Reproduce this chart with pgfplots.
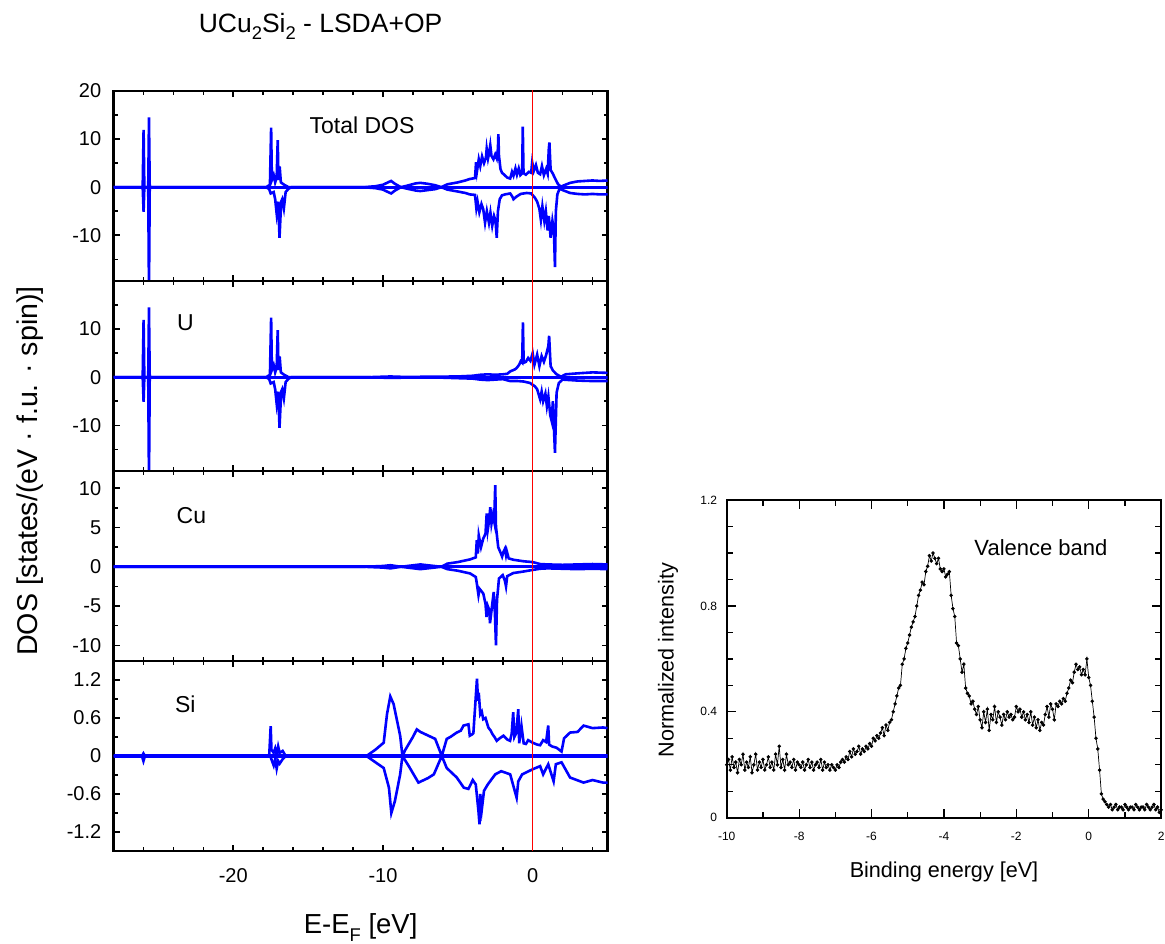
\documentclass[border=0pt]{standalone}
\usepackage{fontspec}
\setmainfont{Liberation Sans}
\usepackage{pgfplots}
\pgfplotsset{compat=1.18}

\pgfplotsset{
  dos/.style={
    scale only axis, width=247pt, height=95pt, anchor=south west,
    xmin=-28, xmax=5,
    xtick={-20,-10,0},
    minor xtick={-26,-24,-22,-18,-16,-14,-12,-8,-6,-4,-2,2,4},
    xticklabels={},
    axis line style={line width=1.3pt},
    tick style={black, line width=0.8pt},
    major tick length=3pt, minor tick length=2pt,
    tick label style={font=\fontsize{10}{12}\selectfont},
    yticklabel style={xshift=-2.6pt},
    xticklabel style={yshift=-5pt},
    /pgf/number format/assume math mode=true,
  },
  spin/.style={blue, line width=1.3pt},
  zeroline/.style={blue, line width=1.6pt},
  fermi/.style={red, line width=0.7pt},
}
\tikzset{lab/.style={font=\fontsize{11.5}{13}\selectfont}}
% deep subscript as in the original figure
\newcommand\dsub[2]{\raisebox{-#2}{\fontsize{9.2}{10}\selectfont #1}}

\begin{document}
\begin{tikzpicture}
\path[use as bounding box] (0,0) rectangle (582.5pt,471.5pt);

% ---- Total DOS
\begin{axis}[dos, at={(56.75pt,331pt)}, ymin=-19.5, ymax=20,
  ytick={-10,0,10,20}, minor ytick={-15,-5,5,15}]
\addplot[zeroline] coordinates {(-28,0) (5,0)};
\addplot[spin] coordinates {
(-28,0) (-26.05,0) (-25.99,11.9) (-25.94,0) (-25.68,0) (-25.63,14.5) (-25.58,0)
(-17.8,0) (-17.55,0.5) (-17.47,12.4) (-17.42,1.5) (-17.3,2.5) (-17.2,1.0) (-17.1,2.0)
(-17.03,9.8) (-16.98,1.5) (-16.9,4.3) (-16.82,1.0) (-16.6,0.5) (-16.3,0)
(-11.3,0) (-10.5,0.2) (-10.0,0.5) (-9.6,1.1) (-9.45,1.3) (-9.2,0.7) (-8.8,0)
(-8.4,0.3) (-7.8,0.8) (-7.5,0.9) (-7.0,0.7) (-6.5,0.4) (-6.1,0)
(-5.7,0.6) (-5.0,1.0) (-4.5,1.4) (-4.2,1.7) (-3.85,1.9) (-3.78,5.2) (-3.72,3.3)
(-3.6,5.8) (-3.5,4.4) (-3.38,6.4) (-3.25,5.0) (-3.12,6.2) (-3.07,8.0) (-2.98,6.0)
(-2.9,7.2) (-2.83,8.7) (-2.75,6.5) (-2.62,5.8) (-2.5,6.8) (-2.4,6.0) (-2.32,8.0)
(-2.29,11.0) (-2.25,6.5) (-2.15,3.8) (-2.05,3.0) (-1.9,2.6) (-1.7,2.0) (-1.5,1.8)
(-1.38,3.2) (-1.28,2.4) (-1.15,3.9) (-1.05,2.6) (-0.93,3.9) (-0.82,2.5) (-0.7,2.9)
(-0.66,12.6) (-0.61,2.9) (-0.45,2.6) (-0.25,3.2) (-0.1,3.0) (-0.03,5.2) (0.08,3.4)
(0.22,4.6) (0.35,3.0) (0.5,2.7) (0.62,4.4) (0.75,2.5) (0.9,3.8) (1.0,2.8)
(1.08,8.0) (1.12,9.3) (1.2,3.6) (1.35,2.8) (1.5,1.8) (1.7,0.6) (1.9,0.1)
(2.1,0.4) (2.5,0.9) (3.0,1.2) (3.5,1.3) (4.0,1.4) (4.5,1.3) (5.0,1.4)
};
\addplot[spin] coordinates {
(-28,0) (-26.05,0) (-25.99,-5.1) (-25.94,0) (-25.68,0) (-25.63,-22) (-25.58,0)
(-17.8,0) (-17.6,-0.4) (-17.5,-1.3) (-17.3,-1.0) (-17.2,-2.5) (-17.1,-5.5) (-17.0,-3.0)
(-16.91,-10.5) (-16.8,-3.0) (-16.73,-2.5) (-16.62,-4.4) (-16.5,-1.0) (-16.3,-0.3) (-16.1,0)
(-11.3,0) (-10.5,-0.2) (-10.0,-0.5) (-9.6,-1.1) (-9.45,-1.3) (-9.2,-0.7) (-8.8,0)
(-8.4,-0.3) (-7.8,-0.7) (-7.5,-0.8) (-7.0,-0.6) (-6.5,-0.4) (-6.1,0)
(-5.7,-0.5) (-5.0,-0.9) (-4.5,-1.2) (-4.2,-1.5) (-3.85,-1.6) (-3.76,-4.4) (-3.68,-3.0)
(-3.56,-5.2) (-3.42,-3.5) (-3.3,-4.6) (-3.18,-7.4) (-3.06,-5.0) (-2.92,-7.4) (-2.82,-5.3)
(-2.7,-8.0) (-2.58,-6.0) (-2.48,-7.0) (-2.4,-10.5) (-2.32,-5.0) (-2.2,-2.5) (-2.05,-1.7)
(-1.85,-1.5) (-1.5,-1.3) (-1.35,-2.0) (-1.28,-2.5) (-1.1,-2.0) (-0.8,-1.4) (-0.4,-1.2)
(-0.1,-1.3) (0.15,-2.2) (0.3,-3.0) (0.45,-4.5) (0.55,-6.8) (0.65,-4.0) (0.78,-7.0)
(0.88,-5.0) (1.0,-9.0) (1.08,-6.0) (1.2,-10.5) (1.32,-7.0) (1.42,-9.0) (1.49,-16.6)
(1.55,-5.0) (1.65,-1.5) (1.8,-0.3) (2.0,-0.6) (2.5,-1.2) (3.0,-1.4) (3.5,-1.5)
(4.0,-1.4) (4.5,-1.5) (5.0,-1.5)
};
\addplot[fermi] coordinates {(0,-30) (0,30)};
\node[lab] at (axis cs:-11.4,12.8) {Total DOS};
\end{axis}

% ---- U
\begin{axis}[dos, at={(56.75pt,236pt)}, ymin=-19.5, ymax=20,
  ytick={-10,0,10}, minor ytick={-15,-5,5,15}]
\addplot[zeroline] coordinates {(-28,0) (5,0)};
\addplot[spin] coordinates {
(-28,0) (-26.05,0) (-25.99,11.9) (-25.94,0) (-25.68,0) (-25.63,14.5) (-25.58,0)
(-17.8,0) (-17.55,0.5) (-17.47,12.4) (-17.42,1.5) (-17.3,2.5) (-17.2,1.0) (-17.1,2.0)
(-17.03,9.8) (-16.98,1.5) (-16.9,4.3) (-16.82,1.0) (-16.6,0.5) (-16.3,0)
(-11,0) (-9.5,0.15) (-8.5,0.05) (-7,0.1) (-5,0.15) (-4,0.3) (-3.5,0.5) (-3,0.6)
(-2.5,0.5) (-2,0.6) (-1.7,0.7) (-1.5,1.2) (-1.2,1.6) (-1.07,1.9) (-0.9,2.6) (-0.8,3.3)
(-0.7,3.0) (-0.65,11.4) (-0.6,3.0) (-0.45,3.2) (-0.3,4.0) (-0.15,3.4) (0.0,5.0)
(0.12,2.6) (0.3,4.7) (0.45,2.3) (0.6,4.4) (0.75,3.2) (0.9,4.6) (1.05,6.5) (1.1,8.6)
(1.2,2.3) (1.35,1.4) (1.6,0.6) (1.9,0.1) (2.2,0.6) (3.0,0.8) (4.0,1.0) (5.0,0.9)
};
\addplot[spin] coordinates {
(-28,0) (-26.05,0) (-25.99,-5.1) (-25.94,0) (-25.68,0) (-25.63,-22) (-25.58,0)
(-17.8,0) (-17.6,-0.4) (-17.5,-1.3) (-17.3,-1.0) (-17.2,-2.5) (-17.1,-5.5) (-17.0,-3.0)
(-16.91,-10.5) (-16.8,-3.0) (-16.73,-2.5) (-16.62,-4.4) (-16.5,-1.0) (-16.3,-0.3) (-16.1,0)
(-11,0) (-9.5,-0.15) (-8,-0.05) (-6,-0.1) (-4,-0.3) (-3.5,-0.5) (-3,-0.6) (-2.5,-0.5)
(-2,-0.4) (-1.5,-0.8) (-1.0,-0.8) (-0.6,-0.9) (-0.18,-1.2) (0.15,-1.9) (0.3,-2.5)
(0.5,-4.6) (0.6,-3.0) (0.7,-5.0) (0.85,-3.4) (0.95,-6.0) (1.05,-4.0) (1.18,-8.0)
(1.27,-9.1) (1.35,-5.0) (1.49,-15.7) (1.6,-3.2) (1.75,-1.2) (2.0,-0.5) (3.0,-0.7)
(4.0,-0.8) (5.0,-0.8)
};
\addplot[fermi] coordinates {(0,-30) (0,30)};
\node[lab] at (axis cs:-23.2,11.3) {U};
\end{axis}

% ---- Cu
\begin{axis}[dos, at={(56.75pt,141pt)}, ymin=-12, ymax=12.2,
  ytick={-10,-5,0,5,10}, minor ytick={-7.5,-2.5,2.5,7.5}]
\addplot[zeroline] coordinates {(-28,0) (5,0)};
\addplot[spin] coordinates {
(-28,0) (-11.3,0) (-10,0.1) (-9.5,0.2) (-8.8,0) (-7.5,0.3) (-6.1,0) (-5.7,0.4)
(-5,0.6) (-4.18,0.94) (-3.8,1.2) (-3.73,3.4) (-3.66,1.7) (-3.6,4.0) (-3.45,2.5)
(-3.3,3.6) (-3.15,4.2) (-3.07,6.8) (-3.0,4.7) (-2.9,6.0) (-2.83,7.6) (-2.75,5.5)
(-2.65,6.6) (-2.57,5.8) (-2.5,10.4) (-2.45,5.1) (-2.3,2.5) (-2.1,1.6) (-2.04,1.3)
(-1.95,1.9) (-1.85,2.3) (-1.78,1.5) (-1.73,2.0) (-1.6,1.07) (-1.3,0.9) (-0.6,0.7)
(0,0.6) (0.5,0.35) (1,0.3) (2,0.25) (3,0.3) (4,0.35) (5,0.3)
};
\addplot[spin] coordinates {
(-28,0) (-11.3,0) (-10,-0.1) (-9.5,-0.2) (-8.8,0) (-7.5,-0.3) (-6.1,0) (-5.7,-0.3)
(-5,-0.5) (-4.18,-0.85) (-3.8,-1.3) (-3.73,-2.1) (-3.62,-3.6) (-3.55,-2.8) (-3.3,-3.4)
(-3.15,-4.7) (-3.08,-6.4) (-3.0,-5.0) (-2.9,-5.5) (-2.85,-7.2) (-2.72,-5.1) (-2.6,-3.2)
(-2.52,-6.0) (-2.45,-10.0) (-2.38,-4.2) (-2.25,-1.5) (-2.0,-1.06) (-1.85,-1.8)
(-1.78,-2.5) (-1.7,-1.2) (-1.3,-0.8) (-0.6,-0.6) (0,-0.4) (0.5,-0.25) (1,-0.2)
(2,-0.25) (3,-0.3) (4,-0.25) (5,-0.3)
};
\addplot[fermi] coordinates {(0,-30) (0,30)};
\node[lab] at (axis cs:-22.8,6.5) {Cu};
\end{axis}

% ---- Si
\begin{axis}[dos, at={(56.75pt,46pt)}, ymin=-1.5, ymax=1.5,
  ytick={-1.2,-0.6,0,0.6,1.2}, minor ytick={-0.9,-0.3,0.3,0.9},
  xticklabels={-20,-10,0},
  yticklabel style={/pgf/number format/fixed}]
\addplot[zeroline] coordinates {(-28,0) (5,0)};
\addplot[spin] coordinates {
(-28,0) (-26.1,0) (-26.0,0.04) (-25.9,0) (-17.6,0) (-17.5,0.47) (-17.45,0.1)
(-17.3,0.05) (-17.2,0.12) (-17.1,0.02) (-17.0,0.15) (-16.9,0.05) (-16.7,0.08) (-16.5,0)
(-11.1,0) (-10.5,0.1) (-9.95,0.21) (-9.73,0.66) (-9.51,0.94) (-9.29,0.82) (-8.85,0.32)
(-8.7,0) (-8.5,0.1) (-8.0,0.3) (-7.74,0.42) (-7.5,0.38) (-6.51,0.27) (-6.07,0)
(-5.74,0.27) (-5.5,0.3) (-5.07,0.37) (-4.8,0.4) (-4.62,0.48) (-4.29,0.50) (-4.2,0.32)
(-4.05,0.34) (-3.96,0.36) (-3.72,1.22) (-3.65,0.87) (-3.6,1.0) (-3.5,0.66) (-3.4,0.7)
(-3.3,0.58) (-3.15,0.6) (-2.96,0.45) (-2.8,0.4) (-2.7,0.35) (-2.55,0.3) (-2.4,0.24)
(-2.2,0.28) (-1.95,0.32) (-1.7,0.26) (-1.51,0.24) (-1.4,0.35) (-1.3,0.69) (-1.22,0.3)
(-1.1,0.36) (-0.96,0.74) (-0.9,0.2) (-0.75,0.48) (-0.6,0.2) (-0.45,0.19) (-0.3,0.25)
(0,0.21) (0.3,0.18) (0.5,0.17) (0.7,0.25) (0.9,0.22) (1.04,0.48) (1.1,0.18) (1.3,0.15)
(1.6,0.13) (1.93,0.07) (2.1,0.28) (2.5,0.37) (3.0,0.38) (3.4,0.48) (4.0,0.44)
(4.7,0.45) (5.0,0.44)
};
\addplot[spin] coordinates {
(-28,0) (-26.1,0) (-26.0,-0.08) (-25.9,0) (-17.6,0) (-17.5,-0.02) (-17.3,-0.15)
(-17.2,-0.05) (-17.1,-0.2) (-17.0,-0.08) (-16.9,-0.12) (-16.7,-0.05) (-16.5,0)
(-11.1,0) (-10.5,-0.1) (-9.95,-0.19) (-9.6,-0.5) (-9.44,-0.9) (-9.2,-0.71) (-8.85,-0.29)
(-8.7,0) (-8.3,-0.15) (-7.63,-0.42) (-7.0,-0.35) (-6.6,-0.29) (-6.07,0) (-5.74,-0.19)
(-5.07,-0.34) (-4.6,-0.5) (-4.29,-0.52) (-4.0,-0.38) (-3.8,-0.45) (-3.62,-0.87)
(-3.55,-1.08) (-3.5,-0.6) (-3.4,-0.85) (-3.25,-0.55) (-3.0,-0.45) (-2.5,-0.29)
(-2.1,-0.24) (-1.5,-0.29) (-1.07,-0.66) (-0.96,-0.4) (-0.7,-0.29) (0,-0.21)
(0.5,-0.16) (0.7,-0.29) (1.04,-0.13) (1.4,-0.4) (1.55,-0.13) (1.93,-0.1) (2.5,-0.34)
(3.4,-0.42) (4.0,-0.38) (4.7,-0.42) (5.0,-0.42)
};
\addplot[fermi] coordinates {(0,-30) (0,30)};
\node[lab] at (axis cs:-23.2,0.82) {Si};
\end{axis}

% ---- Valence band spectrum
\begin{axis}[scale only axis, width=217.2pt, height=158.8pt, anchor=south west,
  at={(363.35pt,62.65pt)},
  xmin=-10, xmax=2, ymin=0, ymax=1.2,
  xtick={-10,-8,-6,-4,-2,0,2}, minor xtick={-9,-7,-5,-3,-1,1},
  ytick={0,0.4,0.8,1.2}, minor ytick={0.1,0.2,0.3,0.5,0.6,0.7,0.9,1.0,1.1},
  axis line style={line width=1pt},
  tick style={black, line width=0.6pt},
  major tick length=4.5pt, minor tick length=3pt,
  tick label style={font=\fontsize{6}{7}\selectfont},
  xticklabel style={yshift=-3.9pt},
  yticklabel style={xshift=-1.3pt},
  /pgf/number format/assume math mode=true]
\addplot[black, line width=0.35pt, mark=*, mark size=0.7pt] coordinates {
(-10.00,0.20) (-9.95,0.22) (-9.90,0.18) (-9.85,0.23) (-9.80,0.19) (-9.75,0.21)
(-9.70,0.17) (-9.65,0.22) (-9.60,0.20) (-9.55,0.24) (-9.50,0.18) (-9.45,0.21)
(-9.40,0.19) (-9.35,0.23) (-9.30,0.17) (-9.25,0.20) (-9.20,0.24) (-9.15,0.18)
(-9.10,0.21) (-9.05,0.19) (-9.00,0.22) (-8.95,0.18) (-8.90,0.20) (-8.85,0.23)
(-8.80,0.19) (-8.75,0.21) (-8.70,0.18) (-8.65,0.24) (-8.60,0.20) (-8.55,0.27)
(-8.50,0.19) (-8.45,0.22) (-8.40,0.18) (-8.35,0.24) (-8.30,0.20) (-8.25,0.21)
(-8.20,0.19) (-8.15,0.22) (-8.10,0.18) (-8.05,0.21) (-8.00,0.20) (-7.95,0.19)
(-7.90,0.21) (-7.85,0.18) (-7.80,0.20) (-7.75,0.22) (-7.70,0.19) (-7.65,0.21)
(-7.60,0.18) (-7.55,0.20) (-7.50,0.21) (-7.45,0.19) (-7.40,0.22) (-7.35,0.18)
(-7.30,0.21) (-7.25,0.19) (-7.20,0.20) (-7.15,0.18) (-7.10,0.20) (-7.05,0.19)
(-7.00,0.18) (-6.95,0.20) (-6.90,0.19) (-6.85,0.21) (-6.80,0.22) (-6.75,0.21)
(-6.70,0.23) (-6.65,0.22) (-6.60,0.25) (-6.55,0.23) (-6.50,0.26) (-6.45,0.24)
(-6.40,0.25) (-6.35,0.27) (-6.30,0.24) (-6.25,0.26) (-6.20,0.25) (-6.15,0.27)
(-6.10,0.26) (-6.05,0.28) (-6.00,0.27) (-5.95,0.30) (-5.90,0.29) (-5.85,0.31)
(-5.80,0.30) (-5.75,0.32) (-5.70,0.34) (-5.65,0.31) (-5.60,0.35) (-5.55,0.33)
(-5.50,0.36) (-5.45,0.37) (-5.40,0.40) (-5.35,0.43) (-5.30,0.46) (-5.25,0.49)
(-5.20,0.50) (-5.15,0.58) (-5.10,0.60) (-5.05,0.64) (-5.00,0.66) (-4.95,0.69)
(-4.90,0.72) (-4.85,0.74) (-4.80,0.76) (-4.75,0.80) (-4.70,0.84) (-4.65,0.86)
(-4.60,0.89) (-4.55,0.88) (-4.50,0.93) (-4.45,0.95) (-4.40,0.99) (-4.35,0.97)
(-4.30,1.00) (-4.25,0.98) (-4.20,0.96) (-4.15,0.98) (-4.10,0.94) (-4.05,0.93)
(-4.00,0.94) (-3.95,0.91) (-3.90,0.92) (-3.85,0.93) (-3.80,0.84) (-3.75,0.79)
(-3.70,0.76) (-3.65,0.66) (-3.60,0.65) (-3.55,0.60) (-3.50,0.55) (-3.45,0.58)
(-3.40,0.49) (-3.35,0.47) (-3.30,0.46) (-3.25,0.43) (-3.20,0.44) (-3.15,0.41)
(-3.10,0.39) (-3.05,0.42) (-3.00,0.37) (-2.95,0.34) (-2.90,0.40) (-2.85,0.36)
(-2.80,0.41) (-2.75,0.33) (-2.70,0.39) (-2.65,0.37) (-2.60,0.42) (-2.55,0.36)
(-2.50,0.40) (-2.45,0.38) (-2.40,0.35) (-2.35,0.39) (-2.30,0.37) (-2.25,0.40)
(-2.20,0.38) (-2.15,0.39) (-2.10,0.37) (-2.05,0.38) (-2.00,0.42) (-1.95,0.40)
(-1.90,0.41) (-1.85,0.38) (-1.80,0.40) (-1.75,0.37) (-1.70,0.39) (-1.65,0.36)
(-1.60,0.40) (-1.55,0.35) (-1.50,0.38) (-1.45,0.34) (-1.40,0.37) (-1.35,0.33)
(-1.30,0.36) (-1.25,0.35) (-1.20,0.39) (-1.15,0.42) (-1.10,0.38) (-1.05,0.43)
(-1.00,0.41) (-0.95,0.37) (-0.90,0.43) (-0.85,0.42) (-0.80,0.44) (-0.75,0.43)
(-0.70,0.45) (-0.65,0.44) (-0.60,0.47) (-0.55,0.49) (-0.50,0.52) (-0.45,0.51)
(-0.40,0.55) (-0.35,0.58) (-0.30,0.56) (-0.25,0.57) (-0.20,0.54) (-0.15,0.56)
(-0.10,0.54) (-0.05,0.60) (0.00,0.53) (0.05,0.50) (0.10,0.44) (0.15,0.38)
(0.20,0.30) (0.25,0.26) (0.30,0.18) (0.35,0.09) (0.40,0.07) (0.45,0.06)
(0.50,0.05) (0.55,0.04) (0.60,0.05) (0.65,0.03) (0.70,0.04) (0.75,0.05)
(0.80,0.03) (0.85,0.04) (0.90,0.04) (0.95,0.03) (1.00,0.05) (1.05,0.04)
(1.10,0.03) (1.15,0.04) (1.20,0.04) (1.25,0.03) (1.30,0.05) (1.35,0.04)
(1.40,0.03) (1.45,0.04) (1.50,0.04) (1.55,0.03) (1.60,0.05) (1.65,0.04)
(1.70,0.03) (1.75,0.04) (1.80,0.05) (1.85,0.03) (1.90,0.04) (1.95,0.02)
(2.00,0.03)
};
\node[font=\fontsize{11}{13}\selectfont] at (axis cs:-1.32,1.021) {Valence band};
\end{axis}

% ---- titles and labels
\node[anchor=base west, font=\fontsize{13.25}{15}\selectfont] at (95.85pt,455.35pt)
  {UCu\dsub{2}{3.5pt}Si\dsub{2}{3.5pt} - LSDA+OP};
\node[rotate=90, font=\fontsize{14.3}{16}\selectfont] at (15pt,236pt)
  {DOS [states/(eV · f.u. · spin)]};
\node[anchor=base, font=\fontsize{13.75}{15}\selectfont] at (180.3pt,5pt)
  {E-E\dsub{F}{4pt} [eV]};
\node[rotate=90, font=\fontsize{10.8}{12}\selectfont] at (334pt,141.5pt)
  {Normalized intensity};
\node[anchor=base, font=\fontsize{10.8}{12}\selectfont] at (472pt,33pt)
  {Binding energy [eV]};
\end{tikzpicture}
\end{document}
